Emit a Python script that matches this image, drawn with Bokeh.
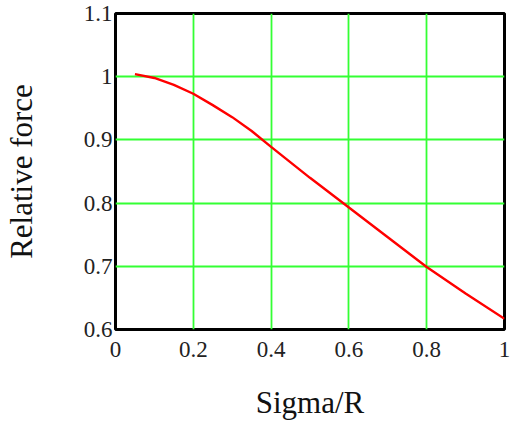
from bokeh.plotting import figure
from bokeh.models import FixedTicker, Range1d
from bokeh.embed import file_html
from bokeh.resources import INLINE

# Data
sigma_r = [0.05, 0.1, 0.15, 0.2, 0.25, 0.3, 0.35, 0.4, 0.5, 0.6, 0.7, 0.8, 0.9, 1.0]
rel_force = [1.004, 0.998, 0.987, 0.973, 0.955, 0.936, 0.914, 0.889, 0.840, 0.793, 0.746, 0.699, 0.657, 0.617]

x_ticks = [0, 0.2, 0.4, 0.6, 0.8, 1.0]
x_tick_labels = ["0", "0.2", "0.4", "0.6", "0.8", "1"]
y_ticks = [0.6, 0.7, 0.8, 0.9, 1.0, 1.1]
y_tick_labels = ["0.6", "0.7", "0.8", "0.9", "1", "1.1"]

x_title = "Sigma/R"
y_title = "Relative force"

FONT = "Liberation Serif"

p = figure(width=511, height=429, output_backend="svg", toolbar_location=None,
           x_range=Range1d(0, 1), y_range=Range1d(0.6, 1.1),
           min_border_left=114, min_border_right=7, min_border_top=13, min_border_bottom=100)

p.background_fill_color = "white"
p.border_fill_color = "white"
p.outline_line_color = "black"
p.outline_line_width = 3

p.line(sigma_r, rel_force, line_color="#ff0000", line_width=2.4)

p.xaxis.ticker = FixedTicker(ticks=x_ticks)
p.yaxis.ticker = FixedTicker(ticks=y_ticks)
p.xaxis.major_label_overrides = {t: l for t, l in zip(x_ticks, x_tick_labels)}
p.yaxis.major_label_overrides = {t: l for t, l in zip(y_ticks, y_tick_labels)}

for ax in (p.xaxis, p.yaxis):
    ax.axis_line_color = None
    ax.major_tick_line_color = None
    ax.minor_tick_line_color = None
    ax.major_tick_out = 0
    ax.major_tick_in = 0
    ax.minor_tick_out = 0
    ax.minor_tick_in = 0
    ax.major_label_text_font = FONT
    ax.major_label_text_font_size = "23px"
    ax.major_label_text_color = "#222222"
    ax.axis_label_text_font = FONT
    ax.axis_label_text_font_size = "31px"
    ax.axis_label_text_font_style = "normal"
    ax.axis_label_text_color = "#111111"

p.xaxis.axis_label = x_title
p.yaxis.axis_label = y_title
p.xaxis.major_label_standoff = 12
p.xaxis.axis_label_standoff = 25
p.yaxis.major_label_standoff = 3
p.yaxis.axis_label_standoff = 42

p.xgrid.ticker = FixedTicker(ticks=x_ticks)
p.ygrid.ticker = FixedTicker(ticks=y_ticks)
for g in (p.xgrid, p.ygrid):
    g.grid_line_color = "#33ff33"
    g.grid_line_width = 1.8

open("out.html", "w").write(file_html(p, INLINE))
